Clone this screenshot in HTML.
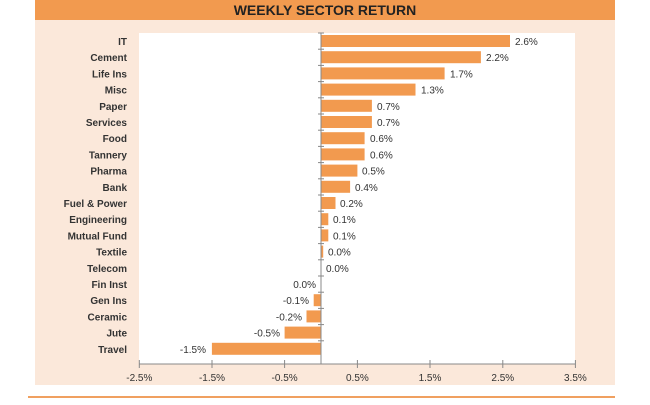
<!DOCTYPE html><html><head><style>body{margin:0;background:#fff;width:650px;height:400px;overflow:hidden}</style></head><body>
<svg width="650" height="400" xmlns="http://www.w3.org/2000/svg" font-family="Liberation Sans, sans-serif">
<rect x="35" y="0" width="580" height="20" fill="#f29a4f"/>
<text x="325" y="15" text-anchor="middle" font-size="14" font-weight="bold" fill="#222">WEEKLY SECTOR RETURN</text>
<rect x="35" y="20" width="580" height="365" fill="#fbe8da"/>
<rect x="139" y="33" width="436" height="331" fill="#fff"/>
<line x1="28" y1="397" x2="615" y2="397" stroke="#f0a060" stroke-width="2"/>
<g font-size="10" font-weight="bold" fill="#333" text-anchor="end">
<text x="127" y="45">IT</text><text x="127" y="61.2">Cement</text><text x="127" y="77.4">Life Ins</text><text x="127" y="93.6">Misc</text><text x="127" y="109.8">Paper</text><text x="127" y="126">Services</text><text x="127" y="142.2">Food</text><text x="127" y="158.4">Tannery</text><text x="127" y="174.6">Pharma</text><text x="127" y="190.8">Bank</text><text x="127" y="207">Fuel &amp; Power</text><text x="127" y="223.2">Engineering</text><text x="127" y="239.4">Mutual Fund</text><text x="127" y="255.6">Textile</text><text x="127" y="271.8">Telecom</text><text x="127" y="288">Fin Inst</text><text x="127" y="304.2">Gen Ins</text><text x="127" y="320.4">Ceramic</text><text x="127" y="336.6">Jute</text><text x="127" y="352.8">Travel</text>
</g>
<g fill="#f29a4f">
<rect x="321" y="35" width="189" height="12"/><rect x="321" y="51.2" width="159.9" height="12"/><rect x="321" y="67.4" width="123.6" height="12"/><rect x="321" y="83.6" width="94.5" height="12"/><rect x="321" y="99.8" width="50.9" height="12"/><rect x="321" y="116" width="50.9" height="12"/><rect x="321" y="132.2" width="43.6" height="12"/><rect x="321" y="148.4" width="43.6" height="12"/><rect x="321" y="164.6" width="36.4" height="12"/><rect x="321" y="180.8" width="29.1" height="12"/><rect x="321" y="197" width="14.5" height="12"/><rect x="321" y="213.2" width="7.3" height="12"/><rect x="321" y="229.4" width="7.3" height="12"/><rect x="321" y="245.6" width="2.2" height="12"/>
<rect x="313.7" y="294.2" width="7.3" height="12"/><rect x="306.5" y="310.4" width="14.5" height="12"/><rect x="284.6" y="326.6" width="36.4" height="12"/><rect x="211.9" y="342.8" width="109.1" height="12"/>
</g>
<g font-size="10" fill="#333">
<text x="515" y="45">2.6%</text><text x="486" y="61.2">2.2%</text><text x="450" y="77.4">1.7%</text><text x="421" y="93.6">1.3%</text><text x="377" y="109.8">0.7%</text><text x="377" y="126">0.7%</text><text x="370" y="142.2">0.6%</text><text x="370" y="158.4">0.6%</text><text x="362" y="174.6">0.5%</text><text x="355" y="190.8">0.4%</text><text x="340" y="207">0.2%</text><text x="333" y="223.2">0.1%</text><text x="333" y="239.4">0.1%</text><text x="328" y="255.6">0.0%</text><text x="326" y="271.8">0.0%</text>
</g>
<g font-size="10" fill="#333" text-anchor="end">
<text x="316" y="288">0.0%</text><text x="309" y="304.2">-0.1%</text><text x="302" y="320.4">-0.2%</text><text x="280" y="336.6">-0.5%</text><text x="206" y="352.8">-1.5%</text>
</g>
<line x1="139" y1="364" x2="575" y2="364" stroke="#888"/>
<line x1="321" y1="33" x2="321" y2="364" stroke="#888"/>
<g stroke="#888">
<line x1="318" x2="324" y1="33" y2="33"/><line x1="318" x2="324" y1="49.2" y2="49.2"/><line x1="318" x2="324" y1="65.4" y2="65.4"/><line x1="318" x2="324" y1="81.6" y2="81.6"/><line x1="318" x2="324" y1="97.8" y2="97.8"/><line x1="318" x2="324" y1="114" y2="114"/><line x1="318" x2="324" y1="130.2" y2="130.2"/><line x1="318" x2="324" y1="146.4" y2="146.4"/><line x1="318" x2="324" y1="162.6" y2="162.6"/><line x1="318" x2="324" y1="178.8" y2="178.8"/><line x1="318" x2="324" y1="195" y2="195"/><line x1="318" x2="324" y1="211.2" y2="211.2"/><line x1="318" x2="324" y1="227.4" y2="227.4"/><line x1="318" x2="324" y1="243.6" y2="243.6"/><line x1="318" x2="324" y1="259.8" y2="259.8"/><line x1="318" x2="324" y1="276" y2="276"/><line x1="318" x2="324" y1="292.2" y2="292.2"/><line x1="318" x2="324" y1="308.4" y2="308.4"/><line x1="318" x2="324" y1="324.6" y2="324.6"/><line x1="318" x2="324" y1="340.8" y2="340.8"/>
<line x1="139.3" x2="139.3" y1="360" y2="368"/><line x1="212" x2="212" y1="360" y2="368"/><line x1="284.6" x2="284.6" y1="360" y2="368"/><line x1="357.4" x2="357.4" y1="360" y2="368"/><line x1="430" x2="430" y1="360" y2="368"/><line x1="502.8" x2="502.8" y1="360" y2="368"/><line x1="575.4" x2="575.4" y1="360" y2="368"/>
</g>
<g font-size="10" fill="#333" text-anchor="middle">
<text x="139.3" y="381">-2.5%</text><text x="212" y="381">-1.5%</text><text x="284.6" y="381">-0.5%</text><text x="357.4" y="381">0.5%</text><text x="430" y="381">1.5%</text><text x="502.8" y="381">2.5%</text><text x="575.4" y="381">3.5%</text>
</g>
</svg></body></html>
